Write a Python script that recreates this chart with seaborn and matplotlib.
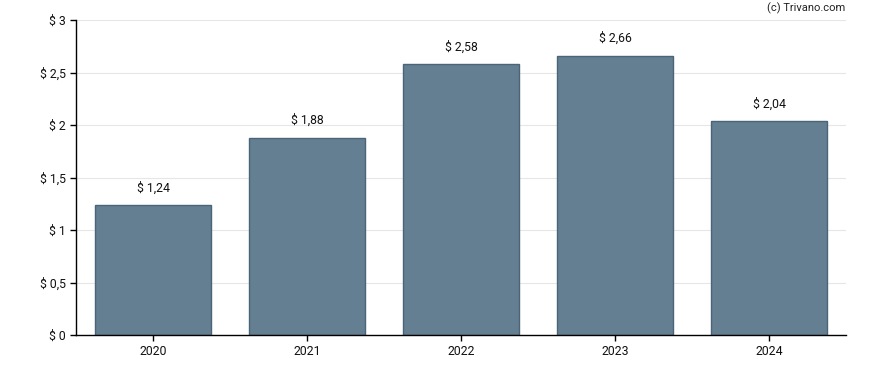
import matplotlib
matplotlib.use("Agg")
import matplotlib.pyplot as plt
import seaborn as sns
import pandas as pd

# data
years = ["2020", "2021", "2022", "2023", "2024"]
values = [1.24, 1.88, 2.58, 2.66, 2.04]
y_ticks = [0, 0.5, 1, 1.5, 2, 2.5, 3]

def money(v, fmt="{:g}"):
    return "$ " + fmt.format(v).replace(".", ",")

df = pd.DataFrame({"year": years, "value": values})

sns.set_style("white")
plt.rcParams["font.family"] = ["Roboto", "DejaVu Sans"]

fig = plt.figure(figsize=(8.88, 3.70), dpi=100)
ax = fig.add_axes([76 / 888, 35 / 370, 770 / 888, 315 / 370])

sns.barplot(data=df, x="year", y="value", color="#657f92", saturation=1,
            width=0.75, edgecolor="#4b6477", linewidth=1, ax=ax, zorder=2)

# value labels above bars
for i, v in enumerate(values):
    ax.text(i, v + 0.1, money(v, "{:.2f}"), ha="center", va="bottom",
            fontsize=8.8, color="#111111")

ax.set_ylim(0, 3)
ax.set_xlim(-0.5, 4.5)
ax.set_yticks(y_ticks)
ax.set_yticklabels([money(t) for t in y_ticks])
ax.yaxis.grid(True, color="#e6e6e6", linewidth=0.8, zorder=0)
ax.set_axisbelow(True)
ax.set_xlabel("")
ax.set_ylabel("")

for s in ["top", "right"]:
    ax.spines[s].set_visible(False)
for s in ["left", "bottom"]:
    ax.spines[s].set_color("black")
    ax.spines[s].set_linewidth(1)

ax.tick_params(axis="both", which="both", length=4, width=1, color="black",
               labelsize=8.8, labelcolor="#111111", direction="out", left=True, bottom=True)

fig.text(845 / 888, 1 - 8 / 370, "(c) Trivano.com", ha="right", va="center",
         fontsize=8, color="#222222")

fig.savefig("out.png", dpi=100)
